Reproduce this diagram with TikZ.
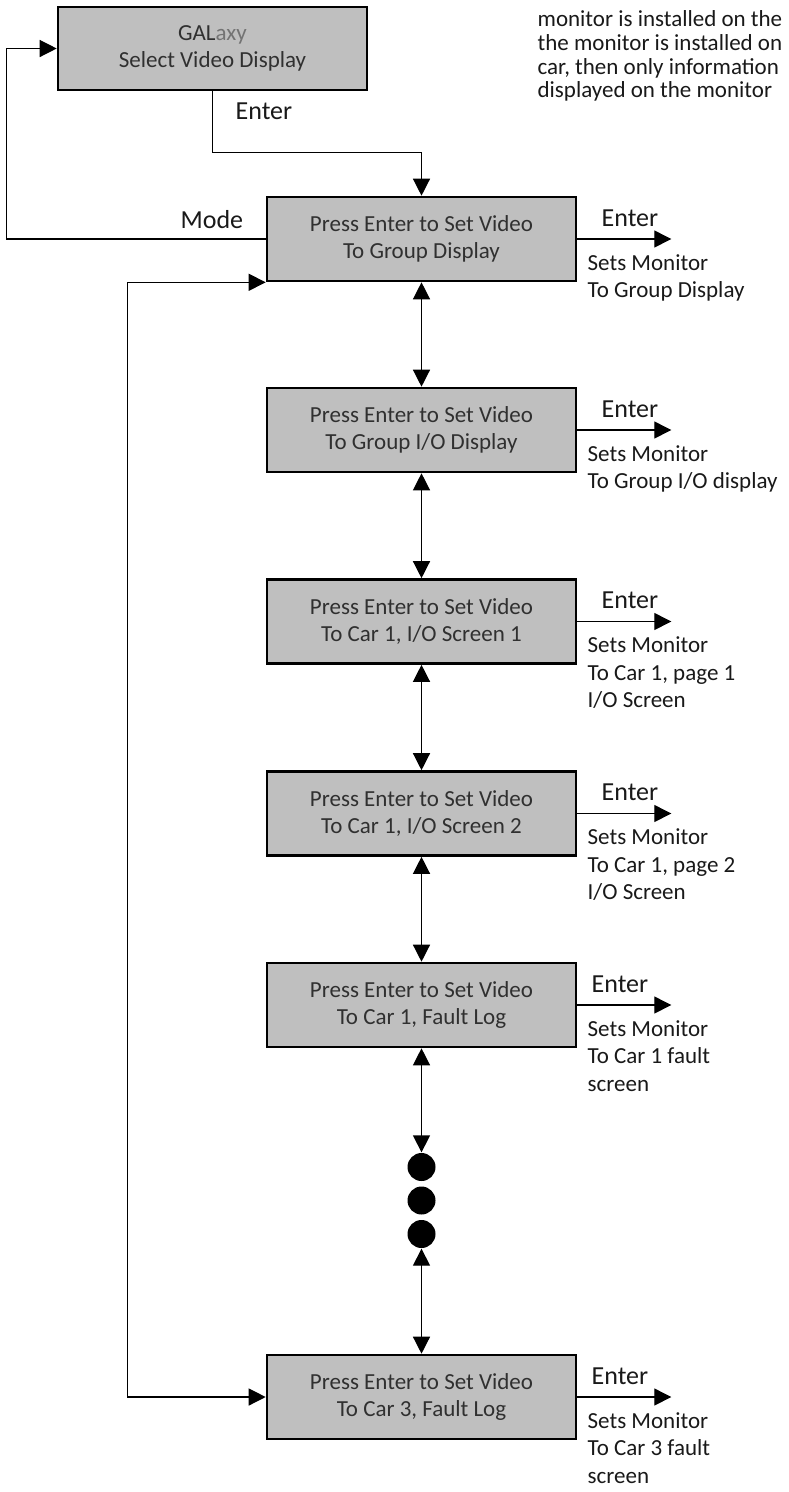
\documentclass[tikz,border=0pt]{standalone}
\usepackage{fontspec}
\setmainfont{Carlito}
\usetikzlibrary{arrows.meta}
\definecolor{boxgray}{RGB}{191,191,191}
\definecolor{boxtext}{RGB}{48,48,48}
\definecolor{softtext}{RGB}{115,115,115}
\definecolor{lbltext}{RGB}{25,25,25}

\begin{document}
\begin{tikzpicture}[x=1pt, y=-1pt, line width=1.3pt, >={Triangle[length=17pt,width=17pt]},
  scrbox/.style={draw, line width=2.6pt, fill=boxgray, text=boxtext, align=center,
    minimum width=309pt, minimum height=84pt, inner sep=2pt, font=\fontsize{23}{27.5}\selectfont},
  keylbl/.style={anchor=west, inner sep=0pt, text=lbltext, font=\fontsize{26}{30}\selectfont},
  notelbl/.style={anchor=north west, inner sep=0pt, align=left, text=lbltext, font=\fontsize{23}{27.5}\selectfont},
  ellip/.style={circle, fill=black, minimum size=28pt, inner sep=0pt}]
  \useasboundingbox (0,0) rectangle (788,1492);

  \node[scrbox, minimum height=83pt] (galaxy) at (212.5,48.5) {{\color{boxtext}GAL}{\color{softtext}axy}\\Select Video Display};
  \node[scrbox] (grp) at (421.5,239) {Press Enter to Set Video\\To Group Display};
  \node[scrbox] (grpio) at (421.5,430) {Press Enter to Set Video\\To Group I/O Display};
  \node[scrbox] (car1a) at (421.5,621.5) {Press Enter to Set Video\\To Car 1, I/O Screen 1};
  \node[scrbox] (car1b) at (421.5,813.5) {Press Enter to Set Video\\To Car 1, I/O Screen 2};
  \node[scrbox] (car1f) at (421.5,1005) {Press Enter to Set Video\\To Car 1, Fault Log};
  \node[scrbox] (car3f) at (421.5,1397) {Press Enter to Set Video\\To Car 3, Fault Log};

  \node[ellip] (d1) at (421.5,1167) {};
  \node[ellip] (d2) at (421.5,1200.5) {};
  \node[ellip] (d3) at (421.5,1234) {};

  \node[notelbl, font=\fontsize{23}{23.7}\selectfont] (note) at (537,10) {monitor is installed on the\\the monitor is installed on\\car, then only information\\displayed on the monitor};

  \draw[->] (galaxy.south) -- ++(0,61) -| (grp.north);
  \node[keylbl] (galkey) at (235,111) {Enter};
  \draw[->] (grp.west) -- ++(-259,0) |- (galaxy.west);
  \node[keylbl] (modekey) at (180,219.5) {Mode};
  \draw[<->] (grp.south west) -- ++(-138,0) |- (car3f.west);

  \draw[<->] (grp.south) -- (grpio.north);
  \draw[<->] (grpio.south) -- (car1a.north);
  \draw[<->] (car1a.south) -- (car1b.north);
  \draw[<->] (car1b.south) -- (car1f.north);
  \draw[<->] (car1f.south) -- (d1.north);
  \draw[<->] (d3.south) -- (car3f.north);

  \draw[->] (grp.east) -- ++(94,0) coordinate (grpout);
  \node[keylbl] (grpkey) at (601,218) {Enter};
  \node[notelbl] (grpnote) at (587,254) {Sets Monitor\\To Group Display};

  \draw[->] (grpio.east) -- ++(94,0) coordinate (grpioout);
  \node[keylbl] (grpiokey) at (601,409) {Enter};
  \node[notelbl] (grpionote) at (587,445) {Sets Monitor\\To Group I/O display};

  \draw[->] (car1a.east) -- ++(94,0) coordinate (car1aout);
  \node[keylbl] (car1akey) at (601,600.5) {Enter};
  \node[notelbl] (car1anote) at (587,636.5) {Sets Monitor\\To Car 1, page 1\\I/O Screen};

  \draw[->] (car1b.east) -- ++(94,0) coordinate (car1bout);
  \node[keylbl] (car1bkey) at (601,792.5) {Enter};
  \node[notelbl] (car1bnote) at (587,828.5) {Sets Monitor\\To Car 1, page 2\\I/O Screen};

  \draw[->] (car1f.east) -- ++(94,0) coordinate (car1fout);
  \node[keylbl] (car1fkey) at (591,984) {Enter};
  \node[notelbl] (car1fnote) at (587,1020) {Sets Monitor\\To Car 1 fault\\screen};

  \draw[->] (car3f.east) -- ++(94,0) coordinate (car3fout);
  \node[keylbl] (car3fkey) at (591,1376) {Enter};
  \node[notelbl] (car3fnote) at (587,1412) {Sets Monitor\\To Car 3 fault\\screen};
\end{tikzpicture}
\end{document}
